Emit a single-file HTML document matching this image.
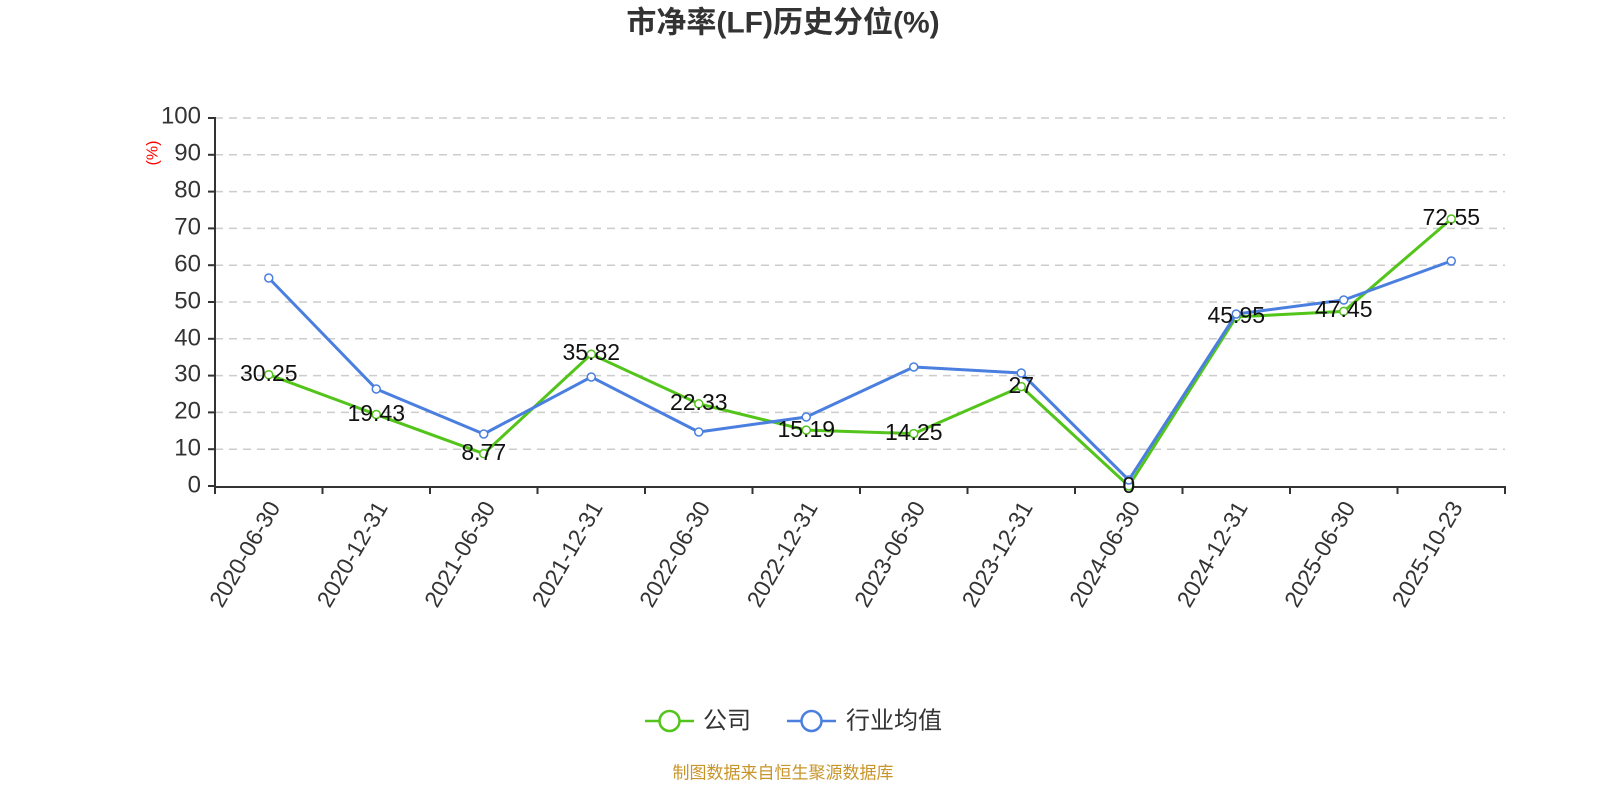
<!DOCTYPE html>
<html><head><meta charset="utf-8"><style>
html,body{margin:0;padding:0;background:#fff;}
svg{display:block;font-family:"Liberation Sans","Noto Sans CJK SC",sans-serif;}
</style></head><body>
<svg width="1600" height="800" viewBox="0 0 1600 800">
<text x="783" y="23" text-anchor="middle" dominant-baseline="central" font-size="30" font-weight="bold" fill="#333">市净率(LF)历史分位(%)</text>
<g stroke="#ccc" stroke-width="1.5" stroke-dasharray="8,6">
<line x1="215" x2="1505" y1="118" y2="118"/><line x1="215" x2="1505" y1="154.8" y2="154.8"/><line x1="215" x2="1505" y1="191.6" y2="191.6"/><line x1="215" x2="1505" y1="228.4" y2="228.4"/><line x1="215" x2="1505" y1="265.2" y2="265.2"/><line x1="215" x2="1505" y1="302" y2="302"/><line x1="215" x2="1505" y1="338.8" y2="338.8"/><line x1="215" x2="1505" y1="375.6" y2="375.6"/><line x1="215" x2="1505" y1="412.4" y2="412.4"/><line x1="215" x2="1505" y1="449.2" y2="449.2"/>
</g>
<g stroke="#333" stroke-width="2">
<line x1="215" y1="117" x2="215" y2="487"/><line x1="214" y1="487" x2="1506" y2="487"/>
<line x1="208" x2="215" y1="118" y2="118"/><line x1="208" x2="215" y1="154.8" y2="154.8"/><line x1="208" x2="215" y1="191.6" y2="191.6"/><line x1="208" x2="215" y1="228.4" y2="228.4"/><line x1="208" x2="215" y1="265.2" y2="265.2"/><line x1="208" x2="215" y1="302" y2="302"/><line x1="208" x2="215" y1="338.8" y2="338.8"/><line x1="208" x2="215" y1="375.6" y2="375.6"/><line x1="208" x2="215" y1="412.4" y2="412.4"/><line x1="208" x2="215" y1="449.2" y2="449.2"/><line x1="208" x2="215" y1="486" y2="486"/>
<line x1="215" x2="215" y1="487" y2="494"/><line x1="322.5" x2="322.5" y1="487" y2="494"/><line x1="430" x2="430" y1="487" y2="494"/><line x1="537.5" x2="537.5" y1="487" y2="494"/><line x1="645" x2="645" y1="487" y2="494"/><line x1="752.5" x2="752.5" y1="487" y2="494"/><line x1="860" x2="860" y1="487" y2="494"/><line x1="967.5" x2="967.5" y1="487" y2="494"/><line x1="1075" x2="1075" y1="487" y2="494"/><line x1="1182.5" x2="1182.5" y1="487" y2="494"/><line x1="1290" x2="1290" y1="487" y2="494"/><line x1="1397.5" x2="1397.5" y1="487" y2="494"/><line x1="1505" x2="1505" y1="487" y2="494"/>
</g>
<g font-size="24" fill="#333" text-anchor="end" dominant-baseline="central">
<text x="201" y="116">100</text><text x="201" y="153">90</text><text x="201" y="190">80</text><text x="201" y="227">70</text><text x="201" y="264">60</text><text x="201" y="301">50</text><text x="201" y="338">40</text><text x="201" y="374">30</text><text x="201" y="411">20</text><text x="201" y="448">10</text><text x="201" y="485">0</text>
</g>
<text transform="translate(153,153) rotate(-90)" font-size="16" fill="red" text-anchor="middle" dominant-baseline="central">(%)</text>
<g font-size="23" fill="#333" text-anchor="end" dominant-baseline="central">
<text transform="translate(274,503) rotate(-60)">2020-06-30</text>
<text transform="translate(381.5,503) rotate(-60)">2020-12-31</text>
<text transform="translate(489,503) rotate(-60)">2021-06-30</text>
<text transform="translate(596.5,503) rotate(-60)">2021-12-31</text>
<text transform="translate(704,503) rotate(-60)">2022-06-30</text>
<text transform="translate(811.5,503) rotate(-60)">2022-12-31</text>
<text transform="translate(919,503) rotate(-60)">2023-06-30</text>
<text transform="translate(1026.5,503) rotate(-60)">2023-12-31</text>
<text transform="translate(1134,503) rotate(-60)">2024-06-30</text>
<text transform="translate(1241.5,503) rotate(-60)">2024-12-31</text>
<text transform="translate(1349,503) rotate(-60)">2025-06-30</text>
<text transform="translate(1456.5,503) rotate(-60)">2025-10-23</text>
</g>
<polyline fill="none" stroke="#52c41a" stroke-width="3" stroke-linejoin="round" points="268.75,374.7 376.25,414.5 483.75,453.7 591.25,354.2 698.75,403.8 806.25,430.1 913.75,433.6 1021.25,386.6 1128.75,486 1236.25,316.9 1343.75,311.4 1451.25,219"/>
<g fill="#fff" stroke="#52c41a" stroke-width="1.5">
<circle cx="268.75" cy="374.7" r="4"/><circle cx="376.25" cy="414.5" r="4"/><circle cx="483.75" cy="453.7" r="4"/><circle cx="591.25" cy="354.2" r="4"/><circle cx="698.75" cy="403.8" r="4"/><circle cx="806.25" cy="430.1" r="4"/><circle cx="913.75" cy="433.6" r="4"/><circle cx="1021.25" cy="386.6" r="4"/><circle cx="1128.75" cy="486" r="4"/><circle cx="1236.25" cy="316.9" r="4"/><circle cx="1343.75" cy="311.4" r="4"/><circle cx="1451.25" cy="219" r="4"/>
</g>
<polyline fill="none" stroke="#4a7fe0" stroke-width="3" stroke-linejoin="round" points="268.75,278 376.25,389 483.75,434 591.25,377 698.75,432 806.25,417 913.75,367 1021.25,373 1128.75,480 1236.25,314 1343.75,300 1451.25,261"/>
<g fill="#fff" stroke="#4a7fe0" stroke-width="1.5">
<circle cx="268.75" cy="278" r="4"/><circle cx="376.25" cy="389" r="4"/><circle cx="483.75" cy="434" r="4"/><circle cx="591.25" cy="377" r="4"/><circle cx="698.75" cy="432" r="4"/><circle cx="806.25" cy="417" r="4"/><circle cx="913.75" cy="367" r="4"/><circle cx="1021.25" cy="373" r="4"/><circle cx="1128.75" cy="480" r="4"/><circle cx="1236.25" cy="314" r="4"/><circle cx="1343.75" cy="300" r="4"/><circle cx="1451.25" cy="261" r="4"/>
</g>
<g font-size="23" fill="#111" text-anchor="middle" dominant-baseline="central">
<text x="268.75" y="373">30.25</text><text x="376.25" y="413">19.43</text><text x="483.75" y="452">8.77</text><text x="591.25" y="352">35.82</text><text x="698.75" y="402">22.33</text><text x="806.25" y="429">15.19</text><text x="913.75" y="432">14.25</text><text x="1021.25" y="385">27</text><text x="1128.75" y="485">0</text><text x="1236.25" y="315">45.95</text><text x="1343.75" y="309">47.45</text><text x="1451.25" y="217">72.55</text>
</g>
<line x1="645" x2="694" y1="721" y2="721" stroke="#52c41a" stroke-width="2.5"/>
<circle cx="669.5" cy="721" r="10" fill="#fff" stroke="#52c41a" stroke-width="2.5"/>
<text x="703" y="721" font-size="24" fill="#333" dominant-baseline="central">公司</text>
<line x1="787" x2="836" y1="721" y2="721" stroke="#4a7fe0" stroke-width="2.5"/>
<circle cx="811.5" cy="721" r="10" fill="#fff" stroke="#4a7fe0" stroke-width="2.5"/>
<text x="846" y="721" font-size="24" fill="#333" dominant-baseline="central">行业均值</text>
<text x="783" y="773" font-size="17" fill="#c8952a" text-anchor="middle" dominant-baseline="central">制图数据来自恒生聚源数据库</text>
</svg>
</body></html>
